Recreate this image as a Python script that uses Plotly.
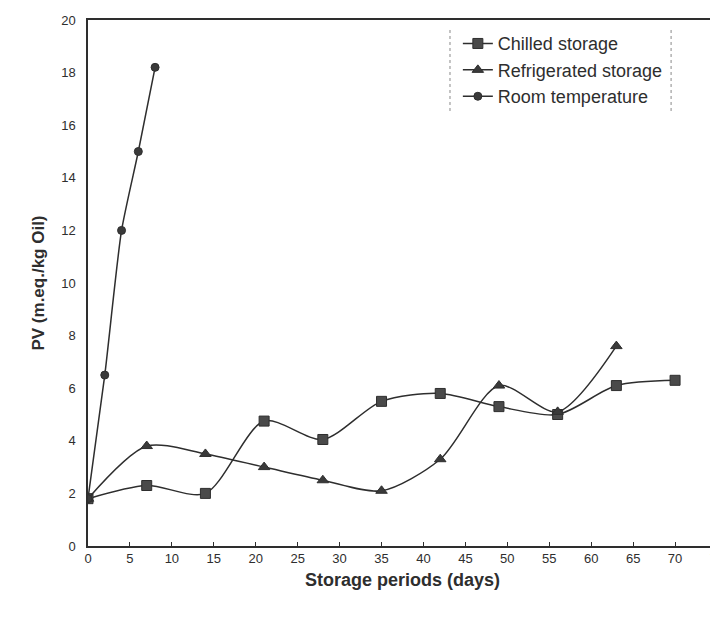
import plotly.graph_objects as go

days_chilled = [0, 7, 14, 21, 28, 35, 42, 49, 56, 63, 70]
pv_chilled = [1.8, 2.3, 2.0, 4.75, 4.05, 5.5, 5.8, 5.3, 5.0, 6.1, 6.3]

days_refrig = [0, 7, 14, 21, 28, 35, 42, 49, 56, 63]
pv_refrig = [1.8, 3.8, 3.5, 3.0, 2.5, 2.1, 3.3, 6.1, 5.1, 7.6]

days_room = [0, 2, 4, 6, 8]
pv_room = [1.8, 6.5, 12.0, 15.0, 18.2]

x_ticks = list(range(0, 80, 5))
y_ticks = list(range(0, 22, 2))

ink = "#2e2e2e"
fig = go.Figure()
fig.add_trace(go.Scatter(x=days_chilled, y=pv_chilled, name="Chilled storage",
                         mode="lines+markers", line=dict(color=ink, width=1.5, shape="spline", smoothing=0.8),
                         marker=dict(symbol="square", size=10, color="#4a4a4a", line=dict(color=ink, width=1))))
fig.add_trace(go.Scatter(x=days_refrig, y=pv_refrig, name="Refrigerated storage",
                         mode="lines+markers", line=dict(color=ink, width=1.5, shape="spline", smoothing=0.8),
                         marker=dict(symbol="triangle-up", size=10, color="#3a3a3a", line=dict(color=ink, width=1))))
fig.add_trace(go.Scatter(x=days_room, y=pv_room, name="Room temperature",
                         mode="lines+markers", line=dict(color=ink, width=1.5, shape="spline", smoothing=0.6),
                         marker=dict(symbol="circle", size=8, color="#3a3a3a", line=dict(color=ink, width=1))))

fig.update_layout(
    width=718, height=619,
    margin=dict(l=80, r=9, t=12, b=81),
    paper_bgcolor="white", plot_bgcolor="white",
    font=dict(family="Liberation Sans, Arial, sans-serif", color=ink, size=13),
    showlegend=True,
    legend=dict(x=0.588, y=0.99, xanchor="left", yanchor="top",
                font=dict(size=18, color=ink), bgcolor="rgba(0,0,0,0)",
                borderwidth=0, tracegroupgap=0, itemwidth=30),
    xaxis=dict(range=[0, 75], tickvals=x_ticks, showgrid=False, zeroline=False,
               showline=True, linecolor=ink, linewidth=1.5, mirror=True,
               ticks="inside", ticklen=4, tickcolor=ink, automargin=False,
               title=dict(text="<b>Storage periods (days)</b>", font=dict(size=18), standoff=8)),
    yaxis=dict(range=[0, 20], tickvals=y_ticks, showgrid=False, zeroline=False,
               showline=True, linecolor=ink, linewidth=1.5, mirror=True,
               ticks="", ticklabelstandoff=8, automargin=False,
               title=dict(text="<b>PV (m.eq./kg Oil)</b>", font=dict(size=17), standoff=12)),
)

fig.add_shape(type="line", xref="paper", yref="paper", x0=0.5755, x1=0.5755, y0=0.827, y1=0.983,
              line=dict(color="#888", width=1, dash="dot"))
fig.add_shape(type="line", xref="paper", yref="paper", x0=0.927, x1=0.927, y0=0.827, y1=0.983,
              line=dict(color="#888", width=1, dash="dot"))

fig.write_html("out.html")
